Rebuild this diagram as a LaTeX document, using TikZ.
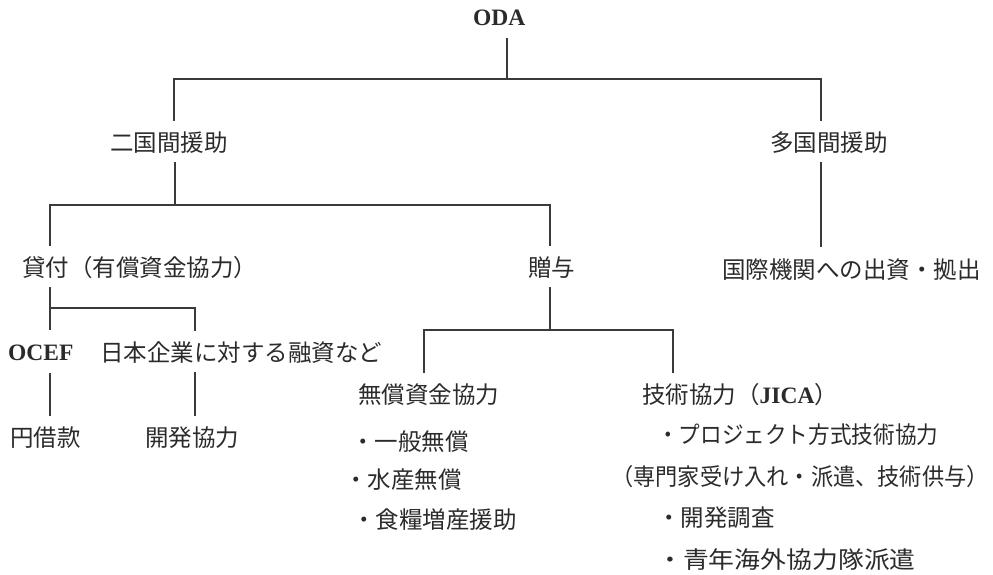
\documentclass[tikz,border=0pt]{standalone}
\usepackage{fontspec}
\usepackage{graphicx}
\setmainfont{Liberation Serif}
\newfontfamily\jpfont{Noto Sans CJK JP}
\definecolor{txtc}{HTML}{2B2B2B}
\definecolor{linec}{HTML}{3A3A3A}
\begin{document}
\begin{tikzpicture}[x=1pt,y=-1pt,
  lbl/.style={anchor=west,inner xsep=0pt,inner ysep=8pt,text=txtc,font=\jpfont\fontsize{23.5}{28}\selectfont},
  lat/.style={lbl,inner ysep=12pt,font=\rmfamily\bfseries\fontsize{23.5}{28}\selectfont},
  conn/.style={draw=linec,line width=1.2pt},
  ]
\fill[white] (0,0) rectangle (993,574);
\path[use as bounding box] (0,0) rectangle (993,574);

% nodes
\node[lat] (oda) at (473,18) {ODA};
\node[lbl] (bi) at (110,143) {二国間援助};
\node[lbl] (multi) at (770,143) {多国間援助};
\node[lbl] (intl) at (722,270) {国際機関への出資・拠出};
\node[lbl] (loan) at (22,268) {貸付（有償資金協力）};
\node[lbl] (gift) at (528,268) {贈与};
\node[lat] (ocef) at (8,353) {OCEF};
\node[lbl] (corp) at (100,353) {日本企業に対する融資など};
\node[lbl] (yen) at (10,438) {円借款};
\node[lbl] (dev) at (145,438) {開発協力};
\node[lbl] (musho) at (358,395) {無償資金協力};
\node[lbl] (ippan) at (351,442) {・一般無償};
\node[lbl] (suisan) at (344,480) {・水産無償};
\node[lbl] (shokuryo) at (352,520) {・食糧増産援助};
\node[lbl] (tech) at (642,395) {技術協力（{\rmfamily\bfseries JICA}）};
\node[lbl] (proj) at (657,435) {\scalebox{0.92}[1]{・プロジェクト方式技術協力}};
\node[lbl] (senmon) at (611,477) {\scalebox{0.945}[1]{（専門家受け入れ・派遣、技術供与）}};
\node[lbl] (kaihatsu) at (657,518) {・開発調査};
\node[lbl] (seinen) at (657,560) {\scalebox{1.1}[1]{・青年海外協力隊派遣}};

% junctions
\coordinate (j1) at (507,79);
\coordinate (b1l) at (174,79);
\coordinate (b1r) at (821,79);
\coordinate (j2) at (175,205);
\coordinate (b2l) at (50,205);
\coordinate (b2r) at (550,205);
\coordinate (b3l) at (50,308);
\coordinate (b3r) at (195,308);
\coordinate (j4) at (550,330);
\coordinate (b4l) at (424,330);
\coordinate (b4r) at (673,330);

% connectors
\draw[conn] (oda.south -| j1) -- (j1);
\draw[conn,shorten <=3pt,shorten >=3pt] (b1l |- bi.north) -- (b1l) -- (b1r) -- (b1r |- multi.north);
\draw[conn,shorten >=4pt] (b1r |- multi.south) -- (b1r |- intl.north);

\draw[conn] (j2 |- bi.south) -- (j2);
\draw[conn,shorten <=3pt,shorten >=3pt] (b2l |- loan.north) -- (b2l) -- (b2r) -- (b2r |- gift.north);

\draw[conn,shorten >=3pt] (b3l |- loan.south) -- (b3l |- ocef.north);
\draw[conn,shorten >=3pt] (b3l) -- (b3r) -- (b3r |- corp.north);
\draw[conn,shorten >=3pt] (b3l |- ocef.south) -- (b3l |- yen.north);
\draw[conn,shorten >=3pt] (b3r |- corp.south) -- (b3r |- dev.north);

\draw[conn] (j4 |- gift.south) -- (j4);
\draw[conn,shorten <=3pt,shorten >=3pt] (b4l |- musho.north) -- (b4l) -- (b4r) -- (b4r |- tech.north);
\end{tikzpicture}
\end{document}
